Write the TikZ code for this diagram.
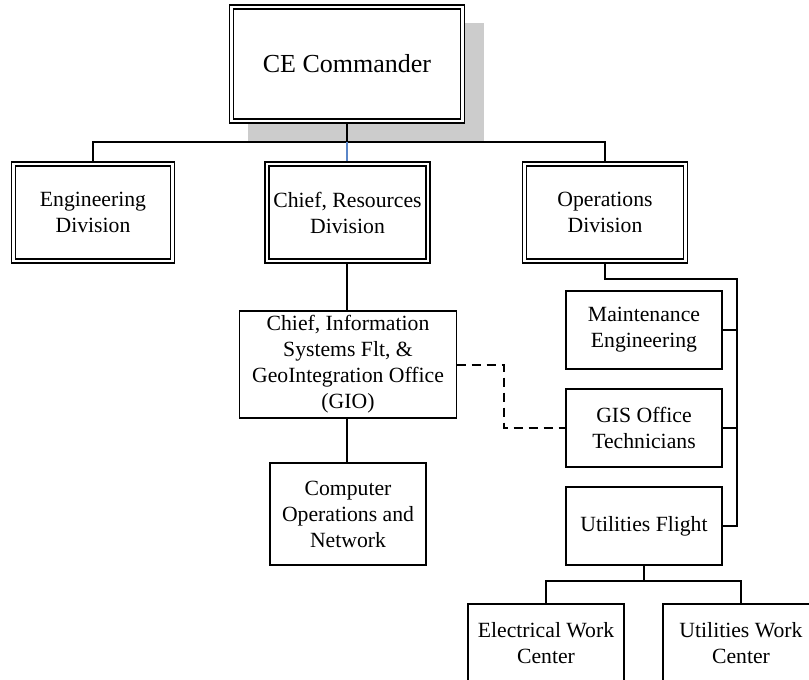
\documentclass[tikz,border=0pt]{standalone}
\usepackage{fontspec}
\setmainfont{Liberation Serif}
\usetikzlibrary{backgrounds}
\definecolor{shadowgray}{HTML}{CCCCCC}
\definecolor{linkblue}{HTML}{5A86C8}
\begin{document}
\begin{tikzpicture}[x=1pt,y=-1pt,
  every node/.style={font=\fontsize{21.7}{26}\selectfont, align=center, inner sep=0pt, outer sep=0pt},
  dblbox/.style={draw, double, double distance=2.6pt, line width=1.4pt, fill=white, minimum height=97pt},
  plainbox/.style={draw, line width=1.5pt, fill=white},
  conn/.style={line width=1.6pt},
  dashconn/.style={line width=1.6pt, dash pattern=on 9pt off 6pt}
]
\useasboundingbox (0,0) rectangle (809,680);

\node[dblbox, minimum width=231pt, minimum height=114pt, font=\fontsize{26}{30}\selectfont] (cmd) at (347,64) {CE Commander};
\node[dblbox, minimum width=159pt] (eng) at (93,212.5) {Engineering\\Division};
\node[dblbox, minimum width=161pt] (res) at (347.5,212.5) {Chief, Resources\\Division};
\node[dblbox, minimum width=161pt] (ops) at (605,212.5) {Operations\\Division};

\node[plainbox, minimum width=217pt, minimum height=107pt] (gio) at (348,364.5) {Chief, Information\\Systems Flt, \&\\GeoIntegration Office\\(GIO)};
\node[plainbox, minimum width=156pt, minimum height=102pt] (cpu) at (348,514) {Computer\\Operations and\\Network};

\node[plainbox, minimum width=156pt, minimum height=78pt] (mnt) at (644,330) {Maintenance\\Engineering};
\node[plainbox, minimum width=156pt, minimum height=78pt] (gis) at (644,428) {GIS Office\\Technicians};
\node[plainbox, minimum width=156pt, minimum height=78pt] (utl) at (644,526) {Utilities Flight};
\node[plainbox, minimum width=156pt, minimum height=78pt] (elec) at (546,643) {Electrical Work\\Center};
\node[plainbox, minimum width=156pt, minimum height=78pt] (uwc) at (741,643) {Utilities Work\\Center};

\coordinate (bus) at (347,142);
\coordinate (railtop) at (737,279);
\coordinate (railbot) at (737,526);
\coordinate (ubus) at (644,581);
\coordinate (dashx) at (504,365);

\begin{scope}[on background layer]
  \fill[shadowgray] ([shift={(16.4,16.4)}]cmd.north west) rectangle ([shift={(21.6,21.6)}]cmd.south east);
  \draw[conn] (cmd.south) -- (bus);
  \draw[conn] (eng.north) |- (bus) -| (ops.north);
  \draw[conn, linkblue] (bus) -- (bus |- res.north);
  \draw[conn] (res.south -| bus) -- (bus |- gio.north);
  \draw[conn] (gio.south -| bus) -- (bus |- cpu.north);
  \draw[conn] (ops.south) |- (railtop) -- (railbot) -- (utl.east);
  \draw[conn] (mnt.east) -- (mnt.east -| railtop);
  \draw[conn] (gis.east) -- (gis.east -| railtop);
  \draw[conn] (utl.south) -- (ubus);
  \draw[conn] (elec.north) |- (ubus) -| (uwc.north);
  \draw[dashconn] (gio.east |- dashx) -- (dashx) |- (gis.west);
\end{scope}
\end{tikzpicture}
\end{document}
